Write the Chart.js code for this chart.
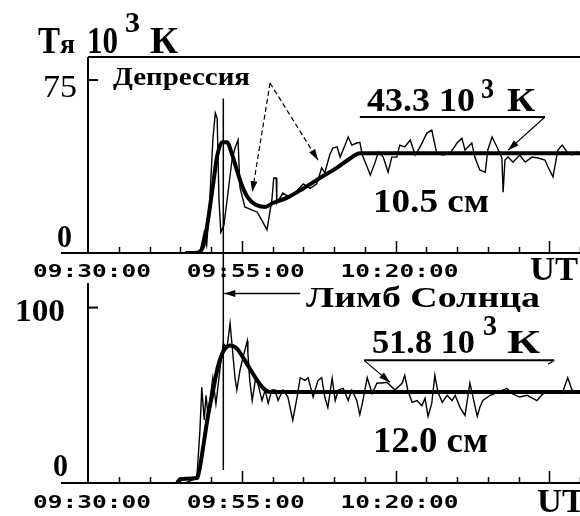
<!DOCTYPE html>
<html>
<head>
<meta charset="utf-8">
<script src="https://cdn.jsdelivr.net/npm/chart.js@4/dist/chart.umd.min.js"></script>
<style>
html, body { margin: 0; padding: 0; background: #fff; }
#wrap { position: relative; width: 580px; height: 516px; overflow: hidden; background: #fff; }
canvas { position: absolute; left: 0; top: 0; }
</style>
</head>
<body>
<div id="wrap">
  <canvas id="topChart" width="580" height="516"></canvas>
  <canvas id="bottomChart" width="580" height="516"></canvas>
</div>
<script>
// time in minutes after 09:30:00 UT, brightness temperature in 10^3 K

// 10.5 cm: raw record and smoothed curve
const topThinTime = [0, 16.6, 18.2, 18.9, 19.3, 19.8, 20.3, 20.7, 21.0, 21.3, 21.6, 22.1, 22.8, 23.4, 23.9, 24.4, 24.7, 25.5, 26.7, 27.5, 28.3, 29.1, 29.9, 30.2, 30.6, 30.7, 31.7, 32.8, 34.0, 35.0, 36.1, 37.2, 38.0, 38.5, 39.3, 39.8, 40.5, 41.0, 41.8, 42.3, 42.9, 43.7, 44.2, 44.6, 45.4, 45.9, 46.7, 47.2, 48.0, 48.8, 49.4, 50.2, 50.7, 51.5, 52.4, 53.2, 54.0, 55.1, 55.9, 56.7, 57.7, 58.9, 60.0, 60.8, 61.3, 62.4, 62.9, 63.7, 64.6, 65.0, 65.7, 66.5, 67.3, 67.5, 67.8, 68.3, 69.1, 70.2, 71.1, 72.2, 73.2, 74.3, 74.8, 75.6, 76.4, 77.1, 77.9, 78.7, 79.5, 80.0];
const topThinTemp = [0, 0, 0.4, 9, 3.5, 23, 49, 60.7, 58.5, 23, 9, 12, 27, 40, 45.5, 49, 28.6, 20, 18.6, 17.8, 14, 10, 23, 32.5, 32.5, 21.7, 26, 24, 27, 30, 28, 30, 37, 34.7, 42.5, 45.5, 46, 41.6, 46.8, 50.3, 46.8, 47.7, 48, 42.5, 37.3, 33.8, 39.4, 43.8, 41.6, 35, 41.6, 41.6, 46.8, 46, 49, 42.5, 46, 52, 53.3, 43.3, 42.5, 43.3, 47.7, 49.8, 44.6, 47.7, 41.6, 36, 35, 44.6, 50.3, 46, 41.2, 26.4, 40.3, 41.6, 39.4, 42.5, 39.4, 41.6, 41.2, 40.3, 37.3, 33, 44.6, 46.8, 43.8, 42.5, 43.8, 43];
const topFitTime = [16, 17.4, 18.7, 19.5, 20.3, 21.0, 21.8, 22.6, 23.4, 24.2, 25.0, 26.0, 27.2, 28.8, 30.1, 32.4, 35.0, 37.7, 40.5, 42.6, 44.2, 80];
const topFitTemp = [0, 0, 2.6, 14, 29, 42, 48, 48, 43, 36, 29.5, 24, 21, 20, 21.7, 24, 28, 32.5, 37, 41, 43.3, 43.3];

// 12.0 cm: raw record and smoothed curve
const botThinTime = [0, 15.8, 17.7, 18.2, 18.5, 18.9, 19.2, 19.5, 19.8, 20.3, 20.8, 21.5, 22.0, 22.6, 23.1, 23.4, 23.9, 24.2, 24.7, 25.2, 25.9, 26.0, 26.3, 26.7, 27.2, 27.6, 28.3, 28.8, 29.3, 29.9, 30.4, 30.9, 31.7, 32.5, 33.3, 34.0, 34.5, 35.3, 35.8, 36.6, 37.4, 38.0, 38.5, 39.0, 39.7, 40.2, 40.7, 41.5, 42.3, 42.9, 43.7, 44.2, 44.7, 45.4, 46.2, 47.0, 47.8, 48.6, 49.9, 51.1, 51.5, 52.0, 52.7, 53.5, 54.3, 54.8, 55.3, 55.9, 56.4, 56.9, 57.6, 58.4, 59.2, 59.7, 60.5, 61.3, 62.1, 62.6, 63.3, 63.7, 64.2, 65.4, 67.5, 68.1, 68.9, 70.2, 71.4, 73.0, 74.0, 75.6, 77.1, 78.0, 78.7, 79.5, 80];
const botThinTemp = [0, 0, 2.8, 30, 54.5, 36, 50, 38.6, 47, 60, 45, 66, 79.5, 77, 91, 79.5, 60, 53, 64, 71.6, 81, 74, 58.5, 47, 58.5, 57, 47, 53, 45.5, 53, 53, 47, 53, 49, 35.8, 49, 60, 58.5, 60, 49, 58.5, 60, 49, 43, 59.7, 47, 53, 54, 47, 53, 47, 39, 47, 60, 51, 57, 57, 57.4, 53, 57, 61.4, 53, 46, 47, 44, 48.3, 38, 45.5, 61.4, 51.8, 46, 50, 47, 50, 43, 38.5, 57, 49, 38, 43, 47, 50, 53, 54, 51, 49, 50, 47, 51, 51.8, 51, 60, 53, 51, 52];
const botFitTime = [14.5, 15.0, 17.7, 18.2, 18.7, 19.5, 20.3, 21.1, 22.0, 23.1, 24.2, 25.2, 26.3, 27.5, 28.5, 29.6, 80];
const botFitTemp = [0, 2.3, 2.8, 9, 20, 38, 52, 66, 75, 78.4, 76.7, 71.6, 65.3, 58.5, 54, 51.8, 51.8];

// axes
const timeMin = 0;
const timeMax = 80;
const minorStep = 5;
const majorStep = 25;
const xTickTimes = [0, 25, 50];
const xTickLabels = ["09:30:00", "09:55:00", "10:20:00"];
const topYTicks = [0, 75];
const botYTicks = [0, 100];
const limbTime = 22; // Лимб Солнца

const BLACK = '#000';
const SERIF = '"Liberation Serif", "Times New Roman", serif';

function toPoints(t, v) {
    return t.map((x, i) => ({ x: x, y: v[i] }));
}

// draw text squeezed/stretched to a given width
function fitText(ctx, str, x, baseline, size, width, weight) {
    ctx.save();
    ctx.font = (weight || 'bold') + ' ' + size + 'px ' + SERIF;
    const w = ctx.measureText(str).width;
    ctx.translate(x, baseline);
    ctx.scale(width / w, 1);
    ctx.textAlign = 'left';
    ctx.textBaseline = 'alphabetic';
    ctx.fillStyle = BLACK;
    ctx.fillText(str, 0, 0);
    ctx.restore();
}

function monoLabel(ctx, str, cx, baseline) {
    ctx.save();
    ctx.font = 'bold 18px "DejaVu Sans Mono"';
    ctx.translate(cx, baseline);
    ctx.scale(1.36, 1);
    ctx.textAlign = 'center';
    ctx.textBaseline = 'alphabetic';
    ctx.fillStyle = BLACK;
    ctx.fillText(str, 0, 0);
    ctx.restore();
}

function line(ctx, x1, y1, x2, y2, w, dash) {
    ctx.save();
    ctx.strokeStyle = BLACK;
    ctx.lineWidth = w;
    ctx.setLineDash(dash || []);
    ctx.beginPath();
    ctx.moveTo(x1, y1);
    ctx.lineTo(x2, y2);
    ctx.stroke();
    ctx.restore();
}

function arrow(ctx, x1, y1, x2, y2, w, dash) {
    line(ctx, x1, y1, x2, y2, w, dash);
    const a = Math.atan2(y2 - y1, x2 - x1);
    const len = 11, half = 3.5;
    ctx.save();
    ctx.fillStyle = BLACK;
    ctx.translate(x2, y2);
    ctx.rotate(a);
    ctx.beginPath();
    ctx.moveTo(0, 0);
    ctx.lineTo(-len, -half);
    ctx.lineTo(-len, half);
    ctx.closePath();
    ctx.fill();
    ctx.restore();
}

// axes frame, ticks and time labels shared by both panels
function drawAxes(chart, labelBaseline, topBorder) {
    const ctx = chart.ctx;
    const a = chart.chartArea;
    const xs = chart.scales.x;
    line(ctx, 61, a.bottom, a.right, a.bottom, 2);
    line(ctx, a.left, a.top, a.left, a.bottom, 2);
    if (topBorder) line(ctx, a.left, a.top, a.right, a.top, 2);
    for (let t = timeMin + minorStep; t <= timeMax; t += minorStep) {
        const px = Math.round(xs.getPixelForValue(t)) + 0.5;
        const len = t % majorStep === 0 ? 12 : 6;
        line(ctx, px, a.bottom, px, a.bottom - len, 1.5);
    }
    xTickTimes.forEach((t, i) => {
        monoLabel(ctx, xTickLabels[i], xs.getPixelForValue(t) + 4, labelBaseline);
    });
}

const topPanel = {
    id: 'topPanel',
    afterDraw(chart) {
        const ctx = chart.ctx;
        const xs = chart.scales.x, ys = chart.scales.y;
        const a = chart.chartArea;
        drawAxes(chart, 277, true);

        // y ticks
        const y75 = ys.getPixelForValue(topYTicks[1]);
        line(ctx, a.left, y75, a.left + 10, y75, 2);
        fitText(ctx, String(topYTicks[1]), 43, y75 + 17, 32, 34, 'normal');
        fitText(ctx, String(topYTicks[0]), 57, ys.getPixelForValue(topYTicks[0]) - 6, 32, 15);

        // title
        fitText(ctx, 'Т', 38, 53, 37, 22);
        fitText(ctx, 'я', 60, 53, 28, 15);
        fitText(ctx, '10', 87, 53, 37, 31);
        fitText(ctx, '3', 125, 32, 30, 15);
        fitText(ctx, 'К', 150, 53, 37, 28);

        // solar limb
        const lx = xs.getPixelForValue(limbTime);
        line(ctx, lx, ys.getPixelForValue(67), lx, 283, 1.5);

        // depression label and arrows
        fitText(ctx, 'Депрессия', 113, 85, 26, 137);
        const apx = xs.getPixelForValue(29.6), apy = ys.getPixelForValue(73.7);
        arrow(ctx, apx, apy, xs.getPixelForValue(26.7), ys.getPixelForValue(26.4), 1.2, [5, 3]);
        arrow(ctx, apx, apy, xs.getPixelForValue(37.4), ys.getPixelForValue(40.3), 1.2, [5, 3]);

        // mean level label
        fitText(ctx, '43.3 10', 367, 111, 34, 108);
        fitText(ctx, '3', 481, 98, 30, 13);
        fitText(ctx, 'К', 507, 111, 34, 28);
        const uy = ys.getPixelForValue(59);
        line(ctx, xs.getPixelForValue(44.2), uy, xs.getPixelForValue(74.3), uy, 2);
        arrow(ctx, xs.getPixelForValue(74.3), uy, xs.getPixelForValue(68.3), ys.getPixelForValue(44.6), 1.2);

        fitText(ctx, '10.5 см', 373, 212, 33, 116);
        fitText(ctx, 'UT', 530, 280, 33, 48);
    }
};

const bottomPanel = {
    id: 'bottomPanel',
    afterDraw(chart) {
        const ctx = chart.ctx;
        const xs = chart.scales.x, ys = chart.scales.y;
        const a = chart.chartArea;
        drawAxes(chart, 508, false);

        const y100 = ys.getPixelForValue(botYTicks[1]);
        line(ctx, a.left, y100, a.left + 10, y100, 2);
        fitText(ctx, String(botYTicks[1]), 15, y100 + 13, 32, 50);
        fitText(ctx, String(botYTicks[0]), 53, ys.getPixelForValue(botYTicks[0]) - 7, 32, 15);

        // solar limb
        const lx = xs.getPixelForValue(limbTime);
        line(ctx, lx, a.top, lx, ys.getPixelForValue(7.4), 1.5);
        const ay = ys.getPixelForValue(108);
        arrow(ctx, xs.getPixelForValue(34.5), ay, lx + 1, ay, 1.5);
        fitText(ctx, 'Лимб Солнца', 306, 307, 29, 234);

        // mean level label
        fitText(ctx, '51.8 10', 372, 353, 34, 103);
        fitText(ctx, '3', 483, 335, 30, 14);
        fitText(ctx, 'К', 507, 353, 34, 33);
        const uy = ys.getPixelForValue(69.9);
        const ux1 = xs.getPixelForValue(44.9), ux2 = xs.getPixelForValue(75.8);
        line(ctx, ux1, uy, ux2, uy, 2);
        arrow(ctx, ux1, uy, xs.getPixelForValue(49.1), ys.getPixelForValue(57.4), 1.2);
        line(ctx, ux2, uy, ux2 - 6, uy + 4, 1.2);

        fitText(ctx, '12.0 см', 373, 452, 35, 115);
        fitText(ctx, 'UT', 537, 512, 33, 48);
    }
};

function makePanel(canvasId, thinT, thinV, fitT, fitV, yMax, padding, plugin) {
    return new Chart(document.getElementById(canvasId), {
        type: 'line',
        data: {
            datasets: [
                {
                    label: 'raw',
                    data: toPoints(thinT, thinV),
                    borderColor: BLACK,
                    borderWidth: 1.4,
                    pointRadius: 0,
                    tension: 0
                },
                {
                    label: 'smooth',
                    data: toPoints(fitT, fitV),
                    borderColor: BLACK,
                    borderWidth: 4,
                    pointRadius: 0,
                    cubicInterpolationMode: 'monotone',
                    borderCapStyle: 'round',
                    borderJoinStyle: 'round'
                }
            ]
        },
        options: {
            responsive: false,
            animation: false,
            events: [],
            layout: { padding: padding },
            plugins: { legend: { display: false }, tooltip: { enabled: false } },
            scales: {
                x: { type: 'linear', display: false, min: timeMin, max: timeMax },
                y: { type: 'linear', display: false, min: 0, max: yMax }
            }
        },
        plugins: [plugin]
    });
}

makePanel('topChart', topThinTime, topThinTemp, topFitTime, topFitTemp, 85,
    { left: 88, right: 0, top: 57, bottom: 263 }, topPanel);
makePanel('bottomChart', botThinTime, botThinTemp, botFitTime, botFitTemp, 114,
    { left: 88, right: 0, top: 283, bottom: 33 }, bottomPanel);
</script>
</body>
</html>
